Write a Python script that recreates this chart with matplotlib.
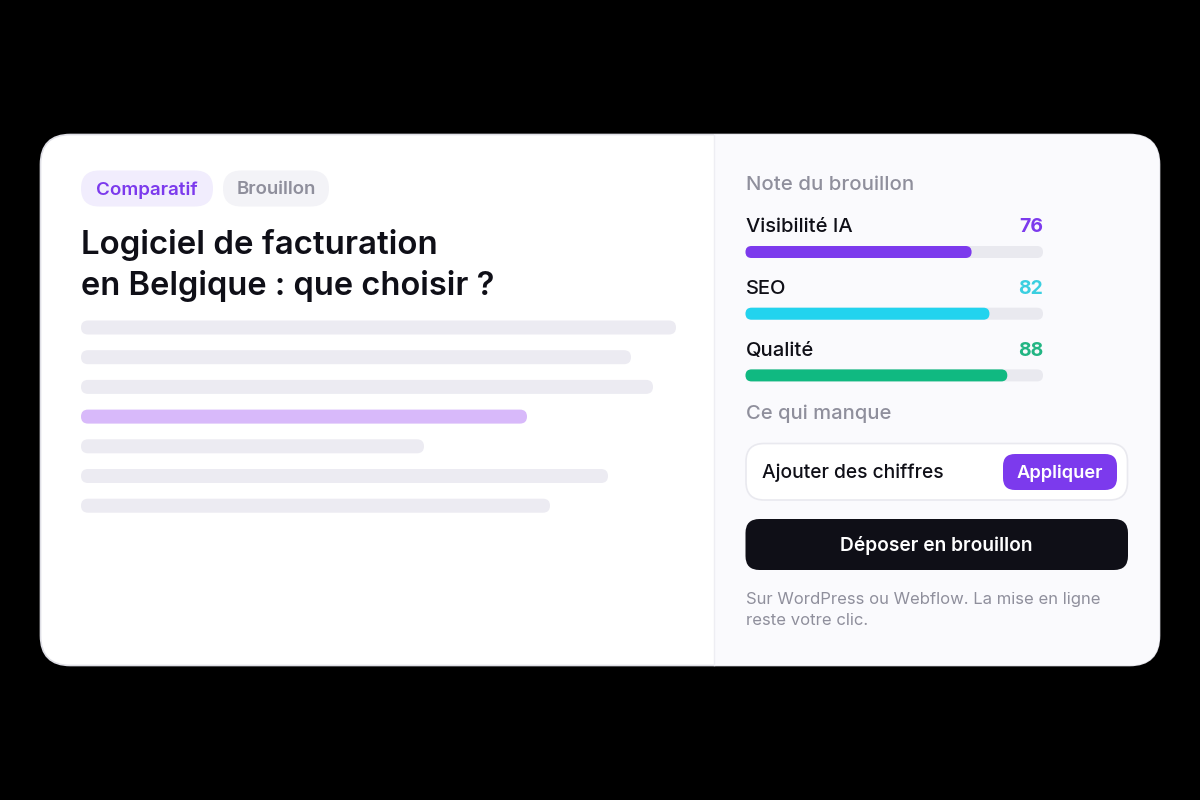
import matplotlib
matplotlib.use('Agg')
import matplotlib.pyplot as plt
from matplotlib.patches import FancyBboxPatch

plt.rcParams['font.family'] = ['Inter', 'DejaVu Sans']

# Data
metrics = ['Visibilité IA', 'SEO', 'Qualité']
scores = [76, 82, 88]
bar_colors = ['#7c3aed', '#22d3ee', '#10b981']
score_colors = ['#7c3aed', '#3bcfe0', '#22b583']
# skeleton text lines, length in px
line_lengths = [595, 550, 572, 446, 343, 527, 469]
highlight_line = 3


def rbox(ax, x, y, w, h, r, fc, ec='none', lw=0, z=1):
    p = FancyBboxPatch((x + r, y + r), w - 2 * r, h - 2 * r,
                       boxstyle='round,pad=%f,rounding_size=%f' % (r, r),
                       fc=fc, ec=ec, lw=lw, zorder=z, mutation_aspect=1)
    ax.add_patch(p)
    return p


fig = plt.figure(figsize=(12, 8), dpi=100, facecolor='black')
ax = fig.add_axes([0, 0, 1, 1])
ax.set_xlim(0, 1200)
ax.set_ylim(800, 0)
ax.axis('off')

# Card and right panel
card = rbox(ax, 40.5, 134.5, 1119, 531, 30, 'white', '#dfdfe6', 1.2, 1)
panel = plt.Rectangle((713.5, 130), 450, 540, fc='#fafafd', ec='none', zorder=2)
ax.add_patch(panel)
panel.set_clip_path(card)
ax.plot([714, 714], [135, 665], color='#eeeef3', lw=1, zorder=3)

# Tags
rbox(ax, 81, 170.5, 132, 36, 18, '#f1edfd')
ax.text(147, 190, 'Comparatif', color='#7c3aed', fontsize=13.5, weight='semibold',
        ha='center', va='center', zorder=4)
rbox(ax, 223, 170.5, 106, 36, 18, '#f3f3f7')
ax.text(276, 190, 'Brouillon', color='#8f8f9c', fontsize=13.4, weight='semibold',
        ha='center', va='center', zorder=4)

# Title
ax.text(81, 245, 'Logiciel de facturation', color='#0f0f17', fontsize=23.8, weight='semibold',
        ha='left', va='center', zorder=4)
ax.text(81, 286, 'en Belgique : que choisir ?', color='#0f0f17', fontsize=23.5, weight='semibold',
        ha='left', va='center', zorder=4)

# Skeleton lines
for i, length in enumerate(line_lengths):
    c = '#d8b9fa' if i == highlight_line else '#ecebf2'
    rbox(ax, 81, 320.5 + i * 29.7, length, 14, 7, c)

# Right side
ax.text(745.5, 184.5, 'Note du brouillon', color='#8f8f9c', fontsize=14.7, weight='medium',
        ha='left', va='center', zorder=4)

track_x = 745.5
track_w = 297.5
for i, (name, score) in enumerate(zip(metrics, scores)):
    y = 226 + i * 61.7
    ax.text(track_x, y + 1.5, name, color='#0f0f17', fontsize=14.5, weight='medium',
            ha='left', va='center', zorder=4)
    ax.text(track_x + track_w, y + 1.5, str(score), color=score_colors[i], fontsize=14, weight='bold',
            ha='right', va='center', zorder=4)
    rbox(ax, track_x, y + 20, track_w, 12, 6, '#e9e9ef', z=3)
    rbox(ax, track_x, y + 20, track_w * score / 100, 12, 6, bar_colors[i], z=4)

ax.text(745.5, 413.5, 'Ce qui manque', color='#8f8f9c', fontsize=14.5, weight='medium',
        ha='left', va='center', zorder=4)

rbox(ax, 746, 443.5, 381.5, 56.5, 18, 'white', '#e9e9ef', 1.2, 3)
ax.text(762, 473, 'Ajouter des chiffres', color='#0f0f17', fontsize=13.85, weight='medium',
        ha='left', va='center', zorder=4)
rbox(ax, 1003, 454, 114, 36, 12, '#7c3aed', z=4)
ax.text(1060, 473, 'Appliquer', color='white', fontsize=13.2, weight='semibold',
        ha='center', va='center', zorder=5)

rbox(ax, 745.5, 519, 382.5, 51, 14, '#0f0f17', z=4)
ax.text(936.5, 545.5, 'Déposer en brouillon', color='white', fontsize=13.8, weight='semibold',
        ha='center', va='center', zorder=5)

ax.text(745.5, 599.5, 'Sur WordPress ou Webflow. La mise en ligne', color='#8f8f9c', fontsize=12,
        ha='left', va='center', zorder=4)
ax.text(745.5, 620.5, 'reste votre clic.', color='#8f8f9c', fontsize=12,
        ha='left', va='center', zorder=4)

fig.savefig('out.png', dpi=100, facecolor='black')
